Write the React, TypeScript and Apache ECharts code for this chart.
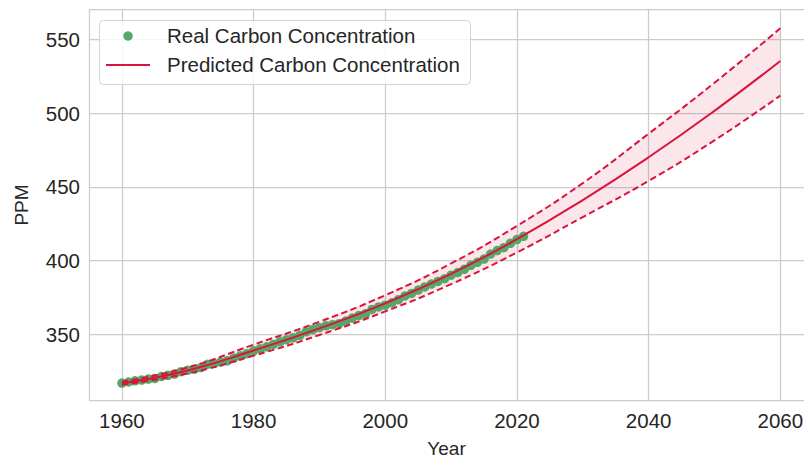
import React, { useEffect, useRef } from "react";
import * as echarts from "echarts";

// Annual mean CO2 (ppm), 1960–2021
const realYears = [
  1960, 1961, 1962, 1963, 1964, 1965, 1966, 1967, 1968, 1969,
  1970, 1971, 1972, 1973, 1974, 1975, 1976, 1977, 1978, 1979,
  1980, 1981, 1982, 1983, 1984, 1985, 1986, 1987, 1988, 1989,
  1990, 1991, 1992, 1993, 1994, 1995, 1996, 1997, 1998, 1999,
  2000, 2001, 2002, 2003, 2004, 2005, 2006, 2007, 2008, 2009,
  2010, 2011, 2012, 2013, 2014, 2015, 2016, 2017, 2018, 2019,
  2020, 2021,
];
const realPpm = [
  316.91, 317.64, 318.45, 318.99, 319.62, 320.04, 321.37, 322.18, 323.05, 324.62,
  325.68, 326.32, 327.46, 329.68, 330.19, 331.13, 332.03, 333.84, 335.41, 336.84,
  338.76, 340.12, 341.48, 343.15, 344.87, 346.35, 347.61, 349.31, 351.69, 353.2,
  354.45, 355.7, 356.54, 357.21, 358.96, 360.97, 362.74, 363.88, 366.84, 368.54,
  369.71, 371.32, 373.45, 375.98, 377.7, 379.98, 382.09, 384.02, 385.83, 387.64,
  390.1, 391.85, 394.06, 396.74, 398.81, 401.01, 404.41, 406.76, 408.72, 411.66,
  414.24, 416.45,
];

// Fitted projection with its upper / lower bounds
const predYears = [1960, 1970, 1980, 1990, 2000, 2010, 2020, 2030, 2040, 2050, 2060];
const predPpm = [316.8, 325.5, 339.0, 354.0, 371.0, 391.0, 414.5, 441.0, 470.0, 501.5, 535.3];
const upperPpm = [317.8, 327.5, 343.0, 358.5, 376.5, 398.0, 423.5, 452.5, 486.0, 520.5, 557.5];
const lowerPpm = [315.8, 323.5, 335.5, 349.5, 365.5, 384.0, 405.5, 429.5, 454.0, 481.5, 511.8];

const xTickLabels = ["1960", "1980", "2000", "2020", "2040", "2060"];
const yTickLabels = ["350", "400", "450", "500", "550"];

const GREEN = "#55a868";
const RED = "#dc143c";
const TEXT = "#262626";
const GRID = "#cccccc";
const FONT = "'Liberation Sans', Arial, sans-serif";

export default function App() {
  const ref = useRef<HTMLDivElement>(null);

  useEffect(() => {
    if (!ref.current) return;
    const chart = echarts.init(ref.current, undefined, { renderer: "svg" });

    const pairs = (xs: number[], ys: number[]) => xs.map((x, i) => [x, ys[i]]);

    // Shaded confidence band: one polygon along the upper bound and back along the lower bound
    const renderBand = (_params: any, api: any) => {
      const pts: number[][] = [];
      for (let i = 0; i < predYears.length; i++) pts.push(api.coord([predYears[i], upperPpm[i]]));
      for (let i = predYears.length - 1; i >= 0; i--) pts.push(api.coord([predYears[i], lowerPpm[i]]));
      return {
        type: "polygon",
        shape: { points: pts },
        style: { fill: "rgba(220,20,60,0.1)", stroke: "none" },
        silent: true,
      };
    };

    const legendZ = 100;

    chart.setOption({
      animation: false,
      backgroundColor: "#ffffff",
      textStyle: { fontFamily: FONT },
      grid: {
        left: 89,
        top: 9.5,
        right: 0,
        bottom: 58.5,
        show: false,
        outerBoundsMode: "none",
        containLabel: false,
      },
      xAxis: {
        type: "value",
        min: 1955,
        // the frame runs on past the right edge of the page
        max: 2063.6,
        splitNumber: 5,
        name: "Year",
        nameLocation: "middle",
        nameGap: 38,
        nameTextStyle: { fontSize: 19, color: TEXT, fontFamily: FONT },
        axisLine: { show: false },
        axisTick: { show: false },
        axisLabel: {
          showMinLabel: false,
          showMaxLabel: false,
          fontSize: 20.5,
          color: TEXT,
          margin: 9,
          fontFamily: FONT,
          formatter: (v: number) => xTickLabels.find((t) => Number(t) === v) ?? "",
        },
        splitLine: {
          show: true,
          showMinLine: true,
          showMaxLine: false,
          lineStyle: { color: GRID, width: 1.25 },
        },
      },
      yAxis: {
        type: "value",
        min: 305.1,
        max: 570.2,
        splitNumber: 5,
        name: "PPM",
        nameLocation: "middle",
        nameGap: 58,
        nameTextStyle: { fontSize: 19, color: TEXT, fontFamily: FONT },
        axisLine: { show: false },
        axisTick: { show: false },
        axisLabel: {
          showMinLabel: false,
          showMaxLabel: false,
          fontSize: 20.5,
          color: TEXT,
          margin: 9,
          fontFamily: FONT,
          formatter: (v: number) => yTickLabels.find((t) => Number(t) === v) ?? "",
        },
        splitLine: {
          show: true,
          showMinLine: true,
          showMaxLine: true,
          lineStyle: { color: GRID, width: 1.25 },
        },
      },
      series: [
        {
          name: "band",
          type: "custom",
          renderItem: renderBand,
          data: [[predYears[0], lowerPpm[0]]],
          z: 1,
          silent: true,
        },
        {
          name: "Real Carbon Concentration",
          type: "scatter",
          symbol: "circle",
          symbolSize: 9.5,
          itemStyle: { color: GREEN, opacity: 1 },
          data: pairs(realYears, realPpm),
          z: 2,
        },
        {
          name: "Predicted Carbon Concentration",
          type: "line",
          smooth: true,
          symbol: "none",
          lineStyle: { color: RED, width: 2 },
          data: pairs(predYears, predPpm),
          z: 3,
        },
        {
          name: "Upper bound",
          type: "line",
          smooth: true,
          symbol: "none",
          lineStyle: { color: RED, width: 2, type: [6.5, 3.5] },
          data: pairs(predYears, upperPpm),
          z: 3,
        },
        {
          name: "Lower bound",
          type: "line",
          smooth: true,
          symbol: "none",
          lineStyle: { color: RED, width: 2, type: [6.5, 3.5] },
          data: pairs(predYears, lowerPpm),
          z: 3,
        },
      ],
      graphic: [
        {
          type: "rect",
          z: legendZ,
          shape: { x: 99.5, y: 20.5, width: 371, height: 64, r: 4 },
          style: { fill: "rgba(255,255,255,0.8)", stroke: "#d4d4d4", lineWidth: 1 },
        },
        {
          type: "circle",
          z: legendZ + 1,
          shape: { cx: 128, cy: 36, r: 4.75 },
          style: { fill: GREEN },
        },
        {
          type: "line",
          z: legendZ + 1,
          shape: { x1: 106, y1: 65, x2: 150, y2: 65 },
          style: { stroke: RED, lineWidth: 2 },
        },
        {
          type: "text",
          z: legendZ + 1,
          x: 167,
          y: 35.5,
          style: {
            text: "Real Carbon Concentration",
            fill: TEXT,
            font: `20.5px ${FONT}`,
            verticalAlign: "middle",
          },
        },
        {
          type: "text",
          z: legendZ + 1,
          x: 167,
          y: 64.5,
          style: {
            text: "Predicted Carbon Concentration",
            fill: TEXT,
            font: `20.5px ${FONT}`,
            verticalAlign: "middle",
          },
        },
      ],
    });

    return () => chart.dispose();
  }, []);

  return (
    <div
      ref={ref}
      style={{ position: "fixed", left: 0, top: 0, width: 804, height: 459, background: "#fff" }}
    />
  );
}
